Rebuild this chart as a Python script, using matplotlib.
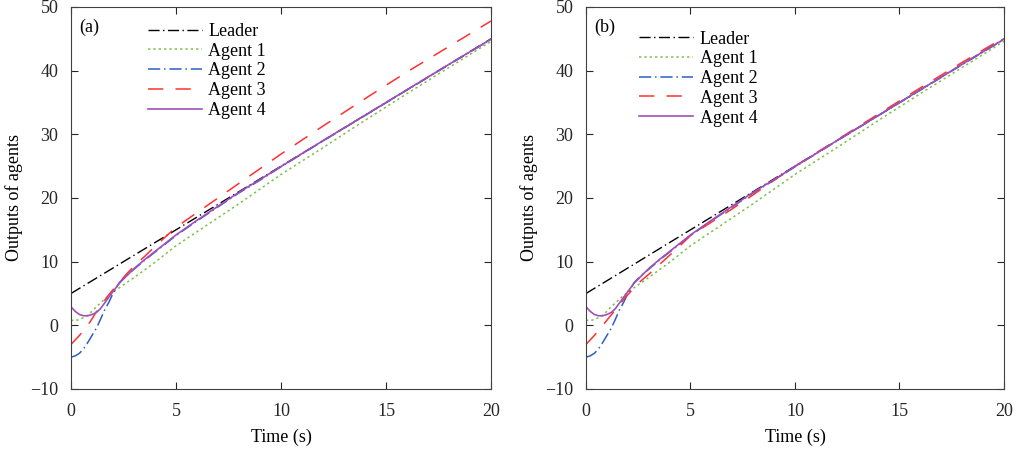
import numpy as np
import matplotlib
matplotlib.use("Agg")
import matplotlib.pyplot as plt

plt.rcParams['font.family'] = ['Liberation Serif', 'DejaVu Serif']
plt.rcParams['font.size'] = 13

# time grid of the read-off points
t = [0, 0.2, 0.4, 0.6, 0.8, 1.0, 1.2, 1.4, 1.6, 1.8, 2.0, 2.3, 2.6, 3.0, 3.5,
     4.0, 4.5, 5, 6, 7, 8, 9, 10, 12, 14, 16, 18, 20]

leader_t = [0, 20]
leader_y = [5, 45]

agent1 = [0.8, 0.75, 0.9, 1.2, 1.6, 2.2, 2.9, 3.5, 4.1, 4.7, 5.2, 5.9, 6.6, 7.5, 8.7,
          9.9, 11.2, 12.5, 14.7, 16.9, 19.1, 21.4, 23.7, 27.9, 32.2, 36.4, 40.5, 44.6]
agent2 = [-5.0, -4.8, -4.4, -3.7, -2.7, -1.6, -0.5, 0.9, 2.4, 3.6, 5.0, 6.7, 7.7, 8.8, 10.2,
          11.5, 12.8, 14.1, 16.4, 18.6, 20.8, 22.8, 24.9, 28.95, 32.95, 36.95, 40.95, 44.9]
agent3_a = [-3.0, -2.3, -1.6, -0.8, 0.0, 1.0, 2.1, 3.0, 3.9, 4.8, 5.6, 6.7, 7.9, 9.3, 10.8,
            12.4, 13.9, 15.4, 17.7, 20.0, 22.3, 24.6, 26.9, 31.3, 35.6, 39.8, 43.8, 47.8]
agent3_b = [-3.0, -2.3, -1.6, -0.8, 0.0, 0.8, 1.6, 2.4, 3.2, 4.1, 4.8, 5.9, 6.9, 8.0, 9.5,
            11.0, 12.5, 14.1, 16.2, 18.3, 20.5, 22.8, 25.0, 29.1, 33.2, 37.3, 41.3, 45.2]
agent4 = [2.9, 2.2, 1.7, 1.5, 1.5, 1.7, 2.0, 2.6, 3.5, 4.4, 5.3, 6.6, 7.6, 8.9, 10.3,
          11.6, 12.9, 14.2, 16.5, 18.7, 20.9, 22.9, 24.95, 29.0, 33.0, 37.0, 41.0, 44.95]

labels = ['Leader', 'Agent 1', 'Agent 2', 'Agent 3', 'Agent 4']

fig = plt.figure(figsize=(10.2, 4.54), dpi=100)
ax_a = fig.add_axes([0.0696, 0.1432, 0.4118, 0.8414])
ax_b = fig.add_axes([0.5745, 0.1432, 0.4098, 0.8414])


def draw(ax, agent3, tag, leg_x, leg_y):
    ax.plot(leader_t, leader_y, color='black', lw=1.0, dashes=(8, 2.5, 1, 2.5), label=labels[0])
    ax.plot(t, agent1, color='#7cc04a', lw=1.1, dashes=(1.5, 2.0), label=labels[1])
    ax.plot(t, agent2, color='#2b5fc4', lw=1.1, dashes=(8, 2.5, 1, 2.5), label=labels[2])
    ax.plot(t, agent3, color='#ff3030', lw=1.1, dashes=(10, 8), label=labels[3])
    ax.plot(t, agent4, color='#a050b8', lw=1.2, label=labels[4])
    ax.set_xlim(0, 20)
    ax.set_ylim(-10, 50)
    ax.set_xticks([0, 5, 10, 15, 20])
    ax.set_yticks([-10, 0, 10, 20, 30, 40, 50])
    ax.tick_params(direction='in', top=True, right=True, length=5, colors='#262626')
    ax.tick_params(axis='x', pad=10)
    ax.tick_params(axis='y', pad=9)
    for s in ax.spines.values():
        s.set_color('#404040')
        s.set_linewidth(0.8)
    ax.set_xlabel('Time (s)', labelpad=6)
    ax.set_ylabel('Outputs of agents', labelpad=5)
    ax.text(0.02, 0.948, tag, transform=ax.transAxes, va='center', ha='left')
    ax.legend(loc='upper left', bbox_to_anchor=(leg_x, leg_y), frameon=False,
              borderpad=0, borderaxespad=0, handlelength=3.0, handletextpad=0.35,
              labelspacing=0.15)


draw(ax_a, agent3_a, '(a)', 0.183, 0.958)
draw(ax_b, agent3_b, '(b)', 0.127, 0.938)

fig.savefig('out.png', dpi=100)
